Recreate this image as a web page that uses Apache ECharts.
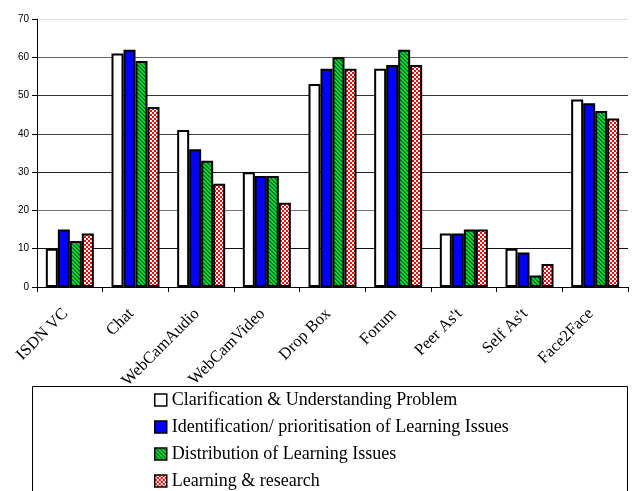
<!DOCTYPE html>
<html>
<head>
<meta charset="utf-8">
<script src="https://cdn.jsdelivr.net/npm/echarts@6/dist/echarts.min.js"></script>
<style>
html,body{margin:0;padding:0;background:#fff;}
#chart{width:632px;height:491px;}
</style>
</head>
<body>
<div id="chart"></div>
<script>
const categories = ['ISDN VC', 'Chat', 'WebCamAudio', 'WebCamVideo', 'Drop Box', 'Forum', "Peer As't", "Self As't", 'Face2Face'];
const seriesNames = ['Clarification & Understanding Problem', 'Identification/ prioritisation of Learning Issues', 'Distribution of Learning Issues', 'Learning & research'];
const clarification = [10, 61, 41, 30, 53, 57, 14, 10, 49];
const identification = [15, 62, 36, 29, 57, 58, 14, 9, 48];
const distribution = [12, 59, 33, 29, 60, 62, 15, 3, 46];
const learning = [14, 47, 27, 22, 57, 58, 15, 6, 44];
const yMin = 0, yMax = 70, yStep = 10;

function stripePattern() {
  const c = document.createElement('canvas');
  c.width = 4; c.height = 4;
  const ctx = c.getContext('2d');
  ctx.fillStyle = '#00e600';
  ctx.fillRect(0, 0, 4, 4);
  ctx.fillStyle = '#0b6e4e';
  for (let i = 0; i < 4; i++) {
    ctx.fillRect(i, i, 1, 1);
    ctx.fillRect((i + 1) % 4, i, 1, 1);
  }
  return { image: c, repeat: 'repeat' };
}
function checkerPattern() {
  const c = document.createElement('canvas');
  c.width = 4; c.height = 4;
  const ctx = c.getContext('2d');
  ctx.fillStyle = '#ffffff';
  ctx.fillRect(0, 0, 4, 4);
  ctx.fillStyle = '#ff0000';
  ctx.fillRect(0, 0, 2, 2);
  ctx.fillRect(2, 2, 2, 2);
  return { image: c, repeat: 'repeat' };
}

const fills = ['#ffffff', '#0000ff', stripePattern(), checkerPattern()];
const dataSets = [clarification, identification, distribution, learning];

const chart = echarts.init(document.getElementById('chart'), null, { renderer: 'canvas' });
chart.setOption({
  animation: false,
  backgroundColor: '#ffffff',
  grid: { left: 37, right: 4, top: 19, bottom: 204, containLabel: false },
  legend: {
    orient: 'vertical',
    left: 154,
    top: 391,
    icon: 'rect',
    itemWidth: 12,
    itemHeight: 12,
    itemGap: 9,
    itemTextGap: 4,
    padding: 0,
    textStyle: { fontFamily: 'Liberation Serif', fontSize: 18, color: '#000' },
    itemStyle: { borderColor: '#000', borderWidth: 1.5 },
    data: seriesNames
  },
  graphic: [{
    type: 'rect',
    shape: { x: 32.5, y: 386.5, width: 595, height: 200 },
    style: { fill: 'none', stroke: '#000', lineWidth: 1 },
    z: -1
  }],
  xAxis: {
    type: 'category',
    data: categories,
    axisLine: { lineStyle: { color: '#000', width: 1 } },
    axisTick: { show: true, length: 5, lineStyle: { color: '#000' } },
    axisLabel: {
      rotate: 45,
      margin: 20,
      padding: [0, 6, 0, 0],
      interval: 0,
      fontFamily: 'Liberation Serif',
      fontSize: 16.5,
      color: '#000'
    },
    splitLine: { show: false }
  },
  yAxis: {
    type: 'value',
    min: yMin,
    max: yMax,
    interval: yStep,
    axisLine: { show: true, lineStyle: { color: '#000', width: 1 } },
    axisTick: { show: true, length: 5, lineStyle: { color: '#000' } },
    axisLabel: { margin: 8, fontFamily: 'Liberation Sans', fontSize: 10, color: '#000' },
    splitLine: { show: true, lineStyle: { color: ['#000', '#111', '#777', '#222', '#444', '#333', '#666', '#ddd'], width: 1 } }
  },
  series: dataSets.map((d, i) => ({
    name: seriesNames[i],
    type: 'bar',
    data: d,
    barWidth: 12,
    barGap: '0%',
    itemStyle: { color: fills[i], borderColor: '#000', borderWidth: 2 }
  }))
});
</script>
</body>
</html>
